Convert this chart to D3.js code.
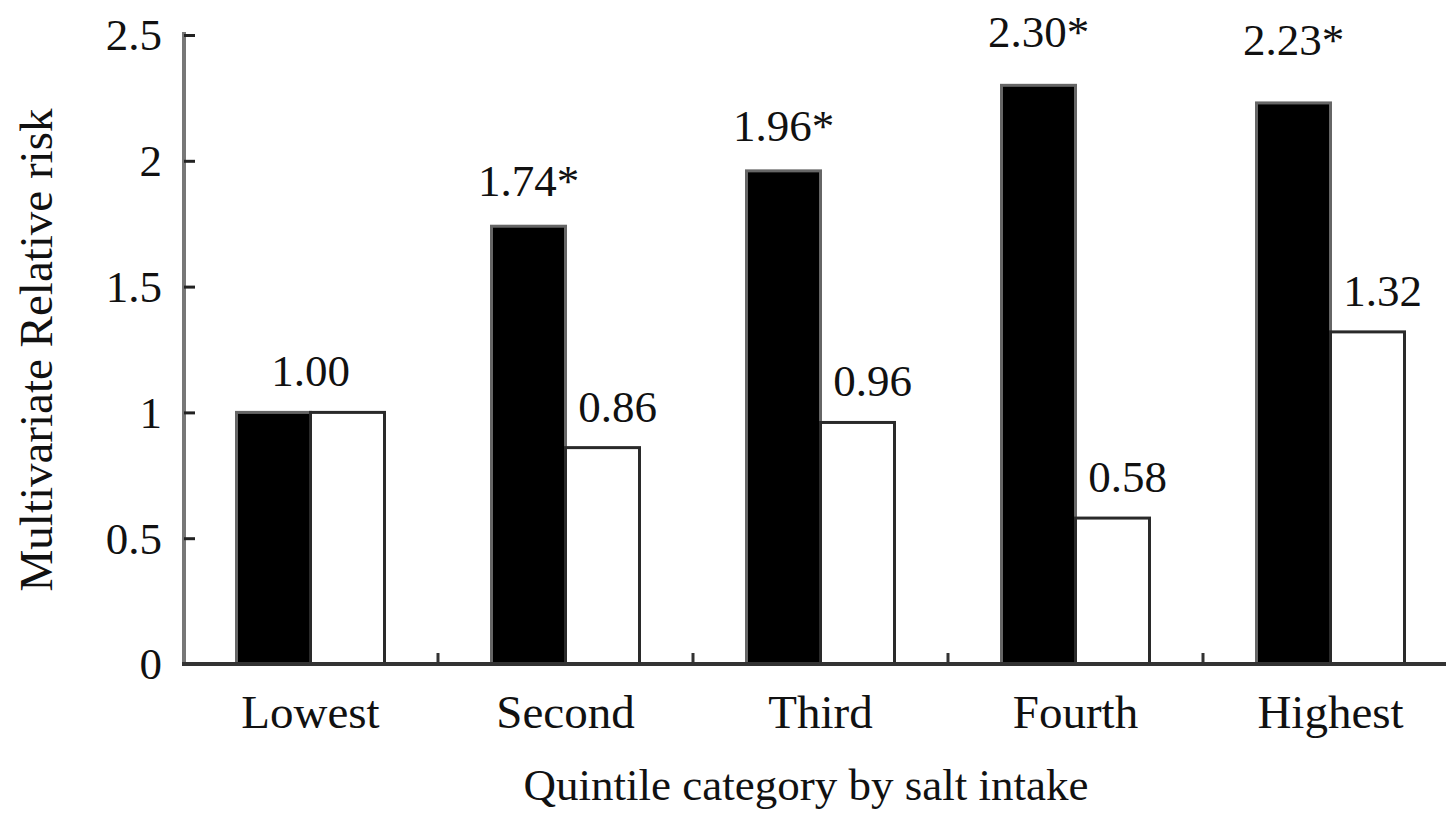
<!DOCTYPE html>
<html>
<head>
<meta charset="utf-8">
<script src="https://cdn.jsdelivr.net/npm/d3@7"></script>
<style>
  html, body { margin: 0; padding: 0; background: #fff; }
  svg { display: block; }
  text { font-family: "Liberation Serif", "Times New Roman", serif; fill: #111; }
</style>
</head>
<body>
<svg id="chart" width="1446" height="814"></svg>
<script>
// Quintiles of salt intake and the multivariate relative risk in each
const categories = ["Lowest", "Second", "Third", "Fourth", "Highest"];
const filledValues = [1.00, 1.74, 1.96, 2.30, 2.23];
const openValues = [1.00, 0.86, 0.96, 0.58, 1.32];
const filledSignificant = [false, true, true, true, true];
const yTicks = [0, 0.5, 1, 1.5, 2, 2.5];
const yTickLabels = ["0", "0.5", "1", "1.5", "2", "2.5"];
const xTitle = "Quintile category by salt intake";
const yTitle = "Multivariate Relative risk";

// extra lift (px) for the value labels above the filled bars
const filledLabelLift = [0, 0, 0, 8, 18];

const svg = d3.select("#chart");
const W = 1446, H = 814;

const x = d3.scaleBand().domain(categories).range([183, 1458]).padding(0);
const y = d3.scaleLinear().domain([0, 2.5]).range([664, 35]);
const barW = 74;
const fontSize = 45;

// bars: filled series left of centre, open series right of centre
const g = svg.append("g");
const cx = c => x(c) + x.bandwidth() / 2;

g.selectAll("rect.filled").data(categories).join("rect")
  .attr("class", "filled")
  .attr("x", c => cx(c) - barW)
  .attr("y", (c, i) => y(filledValues[i]))
  .attr("width", barW)
  .attr("height", (c, i) => y(0) - y(filledValues[i]))
  .attr("fill", "#000")
  .attr("stroke", "#666")
  .attr("stroke-width", 3);

g.selectAll("rect.open").data(categories).join("rect")
  .attr("class", "open")
  .attr("x", c => cx(c))
  .attr("y", (c, i) => y(openValues[i]))
  .attr("width", barW)
  .attr("height", (c, i) => y(0) - y(openValues[i]))
  .attr("fill", "#fff")
  .attr("stroke", "#2a2a2a")
  .attr("stroke-width", 3);

// value labels
const fmt = d3.format(".2f");
categories.forEach((c, i) => {
  const same = filledValues[i] === openValues[i];
  if (same) {
    g.append("text")
      .attr("x", cx(c))
      .attr("y", y(filledValues[i]) - 26)
      .attr("text-anchor", "middle")
      .attr("font-size", fontSize)
      .text(fmt(filledValues[i]));
    return;
  }
  g.append("text")
    .attr("x", cx(c) - barW / 2)
    .attr("y", y(filledValues[i]) - 30 - filledLabelLift[i])
    .attr("text-anchor", "middle")
    .attr("font-size", fontSize)
    .text(fmt(filledValues[i]) + (filledSignificant[i] ? "*" : ""));
  g.append("text")
    .attr("x", cx(c) + barW / 2 + 15)
    .attr("y", y(openValues[i]) - 26)
    .attr("text-anchor", "middle")
    .attr("font-size", fontSize)
    .text(fmt(openValues[i]));
});

// y axis
const yAxis = d3.axisRight(y).tickValues(yTicks).tickSize(11)
  .tickFormat(() => "");
const ya = svg.append("g").attr("transform", "translate(184,0)").call(yAxis);
ya.select(".domain").attr("stroke", "#777").attr("stroke-width", 4)
  .attr("d", `M0,${y(2.5) - 3}V${y(0)}`);
ya.selectAll(".tick line").attr("stroke", "#222").attr("stroke-width", 3);

svg.append("g").selectAll("text").data(yTicks).join("text")
  .attr("x", 162)
  .attr("y", d => y(d))
  .attr("dy", "0.34em")
  .attr("text-anchor", "end")
  .attr("font-size", fontSize)
  .text((d, i) => yTickLabels[i]);

// x axis with boundary ticks between categories
const xa = svg.append("g").attr("transform", `translate(0,${y(0)})`);
xa.append("line")
  .attr("x1", 182).attr("x2", W)
  .attr("stroke", "#333").attr("stroke-width", 4);
xa.selectAll("line.bound").data(categories.slice(1)).join("line")
  .attr("class", "bound")
  .attr("x1", c => x(c)).attr("x2", c => x(c))
  .attr("y1", 0).attr("y2", -11)
  .attr("stroke", "#333").attr("stroke-width", 3);
xa.selectAll("text").data(categories).join("text")
  .attr("x", c => cx(c))
  .attr("y", 64)
  .attr("text-anchor", "middle")
  .attr("font-size", 47)
  .text(c => c);

// axis titles
svg.append("text")
  .attr("x", 806).attr("y", 800)
  .attr("text-anchor", "middle")
  .attr("font-size", fontSize)
  .text(xTitle);

svg.append("text")
  .attr("transform", "translate(52,350) rotate(-90)")
  .attr("text-anchor", "middle")
  .attr("font-size", 47)
  .text(yTitle);
</script>
</body>
</html>
